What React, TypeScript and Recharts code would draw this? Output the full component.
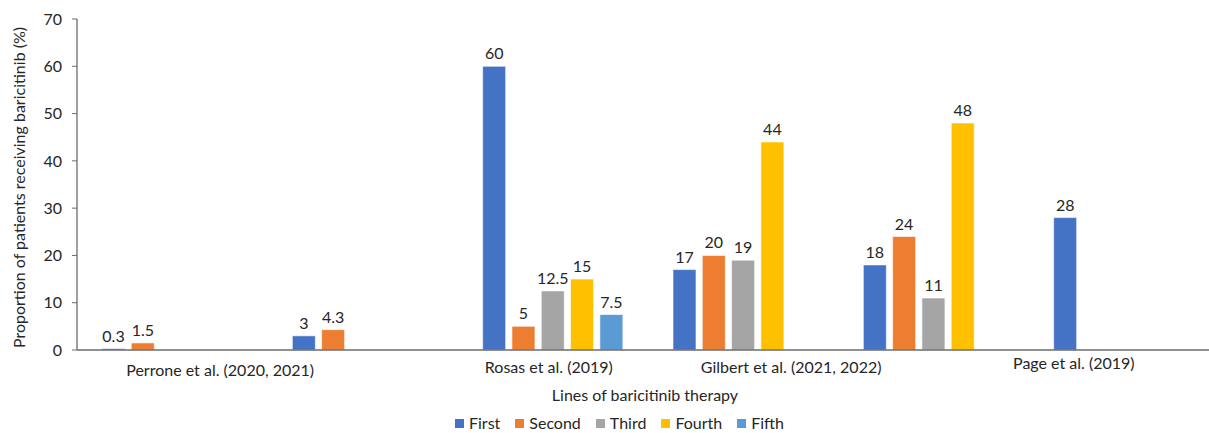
import { BarChart, Bar, XAxis, YAxis, Legend, LabelList, Label } from 'recharts'

const categories = ['Perrone 2020', 'Perrone 2021', 'Rosas 2019', 'Gilbert 2021', 'Gilbert 2022', 'Page 2019']
const groupLabels = ['Perrone et al. (2020, 2021)', '', 'Rosas et al. (2019)', 'Gilbert et al. (2021, 2022)', '', 'Page et al. (2019)']
const first = [0.3, 3, 60, 17, 18, 28]
const second = [1.5, 4.3, 5, 20, 24, null]
const third = [null, null, 12.5, 19, 11, null]
const fourth = [null, null, 15, 44, 48, null]
const fifth = [null, null, 7.5, null, null, null]
const yTicks = [0, 10, 20, 30, 40, 50, 60, 70]

const series = [
  { key: 'First', values: first, color: '#4472C4' },
  { key: 'Second', values: second, color: '#ED7D31' },
  { key: 'Third', values: third, color: '#A5A5A5' },
  { key: 'Fourth', values: fourth, color: '#FFC000' },
  { key: 'Fifth', values: fifth, color: '#5B9BD5' },
]

const data = categories.map((c, i) => {
  const row: Record<string, string | number | null> = { name: c }
  for (const s of series) row[s.key] = s.values[i]
  return row
})

const FONT = 'Lato, "Open Sans", sans-serif'
const TEXT = '#262626'

// the study names sit where they were dropped by hand, not on the tick centres
const labelShift: Record<number, { dx: number; y: number }> = {
  0: { dx: 48, y: 376 },
  2: { dx: -4, y: 373 },
  3: { dx: 48, y: 373 },
  5: { dx: -50, y: 369 },
}

function GroupTick(props: any) {
  const { x, payload } = props
  const text = groupLabels[payload.index]
  const pos = labelShift[payload.index]
  if (!text || !pos) return null
  return (
    <text x={x + pos.dx} y={pos.y} textAnchor="middle" fill={TEXT} fontSize={16} fontFamily={FONT}>
      {text}
    </text>
  )
}

function LegendRow() {
  return (
    <div style={{ display: 'flex', alignItems: 'center', fontFamily: FONT, fontSize: 16, color: TEXT, lineHeight: '18px' }}>
      {series.map((s) => (
        <span key={s.key} style={{ display: 'flex', alignItems: 'center', marginRight: 15 }}>
          <span style={{ width: 9, height: 9, background: s.color, marginRight: 5, display: 'inline-block' }} />
          {s.key}
        </span>
      ))}
    </div>
  )
}

export default function App() {
  return (
    <div style={{ position: 'absolute', left: 0, top: 0, width: 1209, height: 433, overflow: 'hidden', background: '#fff' }}>
      <BarChart
        width={1219}
        height={433}
        data={data}
        margin={{ top: 19, right: 0, left: 0, bottom: 0 }}
        barSize={23}
        barGap={6.3}
      >
        <XAxis
          dataKey="name"
          height={83}
          interval={0}
          tickLine={false}
          axisLine={{ stroke: '#6b6b6b', strokeWidth: 1.3 }}
          tick={<GroupTick />}
        >
          <Label value="Lines of baricitinib therapy" position="insideTop" offset={40} dx={-3} fill={TEXT} fontSize={16} fontFamily={FONT} />
        </XAxis>
        <YAxis
          width={77}
          domain={[0, 70]}
          ticks={yTicks}
          interval={0}
          tickSize={5}
          tickMargin={10}
          tickLine={{ stroke: '#6b6b6b' }}
          axisLine={{ stroke: '#6b6b6b', strokeWidth: 1.3 }}
          tick={{ fill: TEXT, fontSize: 16, fontFamily: FONT }}
        >
          <Label
            value="Proportion of patients receiving baricitinib (%)"
            angle={-90}
            position="center"
            dx={-19}
            dy={3}
            fill={TEXT}
            fontSize={16}
            fontFamily={FONT}
          />
        </YAxis>
        <Legend
          layout="horizontal"
          verticalAlign="middle"
          align="center"
          content={<LegendRow />}
          wrapperStyle={{ top: 414, left: 455, width: 420, height: 18 }}
        />
        {series.map((s) => (
          <Bar key={s.key} dataKey={s.key} fill={s.color} stroke="#ffffff" strokeWidth={0.6} isAnimationActive={false}>
            <LabelList dataKey={s.key} position="top" offset={7} fill={TEXT} fontSize={16} fontFamily={FONT} />
          </Bar>
        ))}
      </BarChart>
    </div>
  )
}
